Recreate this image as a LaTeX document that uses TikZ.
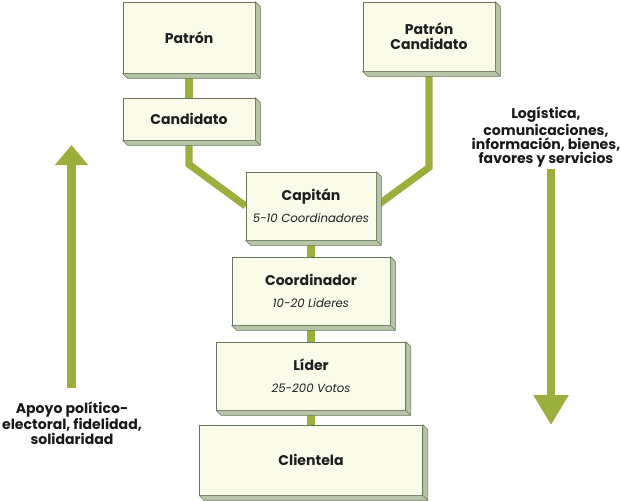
\documentclass[tikz,border=0pt]{standalone}
\usepackage{fontspec}
\setmainfont{Poppins}
\usetikzlibrary{arrows.meta,backgrounds}
\definecolor{tileface}{HTML}{FAFBE8}
\definecolor{tileedge}{HTML}{66765A}
\definecolor{tileside}{HTML}{B8C4A8}
\definecolor{olive}{HTML}{9BB03C}
\tikzset{
    tile/.style={draw=tileedge, fill=tileface, line width=0.7pt, inner sep=0pt, align=center,
        text=black!88, font=\bfseries\fontsize{12}{13}\selectfont},
    link/.style={draw=olive, line width=6pt},
    flow/.style={draw=olive, line width=7.6pt},
    note/.style={align=center, text=black!90}
}
\newcommand{\tilesub}[1]{\\[6pt]{\mdseries\itshape\fontsize{10}{11}\selectfont #1}}
\begin{document}
\begin{tikzpicture}[x=0.03cm,y=-0.03cm]
    \useasboundingbox (0,0) rectangle (621,500);
    % boxes
    \node[tile, minimum width=3.96cm, minimum height=2.13cm] (patron) at (189,37.5) {Patrón};
    \node[tile, minimum width=3.96cm, minimum height=1.26cm] (candidato) at (189,119) {Candidato};
    \node[tile, minimum width=3.96cm, minimum height=2.07cm] (pcand) at (429,36.5) {Patrón\\Candidato};
    \node[tile, minimum width=3.9cm, minimum height=2.04cm] (capitan) at (311,206) {Capitán\tilesub{5-10 Coordinadores}};
    \node[tile, minimum width=4.74cm, minimum height=2.04cm] (coordinador) at (311,291) {Coordinador\tilesub{10-20 Lideres}};
    \node[tile, minimum width=5.67cm, minimum height=2.04cm] (lider) at (311,376) {Líder\tilesub{25-200 Votos}};
    \node[tile, minimum width=6.69cm, minimum height=2.1cm] (clientela) at (311,460) {Clientela};
    \foreach \n in {patron,candidato,pcand,capitan,coordinador,lider,clientela}
        \filldraw[fill=tileside, draw=tileedge, line width=0.5pt, line join=round]
            (\n.north east) -- ++(0.15cm,-0.15cm) -- ([shift={(0.15cm,-0.15cm)}]\n.south east)
            -- ([shift={(0.15cm,-0.15cm)}]\n.south west) -- (\n.south west) -- (\n.south east) -- cycle
            (\n.south east) -- ++(0.15cm,-0.15cm);
    % links
    \begin{scope}[on background layer]
        \draw[link] (patron) -- (candidato);
        \draw[link] (candidato.south) -- ++(0,24) -- (capitan.west);
        \draw[link] (pcand.south) -- ++(0,96) -- (capitan.east);
        \draw[link] (capitan) -- (coordinador);
        \draw[link] (coordinador) -- (lider);
        \draw[link] (lider) -- (clientela);
    \end{scope}
    % side flows
    \node[note, font=\bfseries\fontsize{12}{12.8}\selectfont] (apoyo) at (72,423) {Apoyo político-\\electoral, fidelidad,\\solidaridad};
    \node[note, font=\bfseries\fontsize{12}{11.4}\selectfont] (logistica) at (546,137) {Logística,\\comunicaciones,\\información, bienes,\\favores y servicios};
    \coordinate (upfoot) at (71.5,388);
    \coordinate (uptip) at (71.5,145);
    \coordinate (downfoot) at (551,169);
    \coordinate (downtip) at (551,425);
    \draw[flow, -{Triangle[length=0.6cm,width=0.96cm]}] (upfoot) -- (uptip);
    \draw[flow, -{Triangle[length=0.9cm,width=1cm]}] (downfoot) -- (downtip);
\end{tikzpicture}
\end{document}
